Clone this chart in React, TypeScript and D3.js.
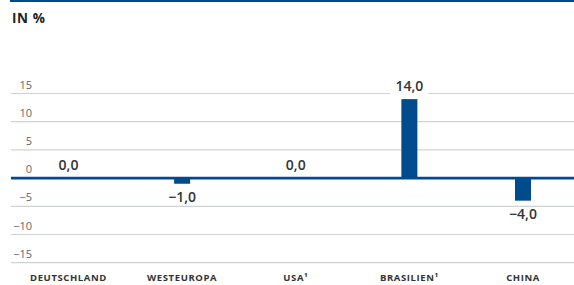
import React, { useEffect, useRef } from 'react';
import { select, scaleLinear, scalePoint } from 'd3';

const categories = ['DEUTSCHLAND', 'WESTEUROPA', 'USA¹', 'BRASILIEN¹', 'CHINA'];
const values = [0.0, -1.0, 0.0, 14.0, -4.0];
const yTicks = [15, 10, 5, 0, -5, -10, -15];

const W = 574;
const H = 285;
const blue = '#004b8d';
const fontFamily = '"Open Sans", "Noto Sans", sans-serif';

const fmt = (v: number) => (v < 0 ? '\u2212' : '') + Math.abs(v).toFixed(1).replace('.', ',');

function App() {
  const ref = useRef<SVGSVGElement>(null);

  useEffect(() => {
    const svg = select(ref.current);
    svg.selectAll('*').remove();

    const y = scaleLinear().domain([-15, 15]).range([262.7, 93.5]);
    const x = scalePoint<string>().domain(categories).range([68.5, 523]);
    const barW = 16;

    // top rule
    svg.append('rect').attr('x', 10).attr('y', 0).attr('width', W - 10).attr('height', 2).attr('fill', blue);

    svg.append('text')
      .attr('x', 12).attr('y', 23)
      .attr('font-family', fontFamily).attr('font-size', 13.5).attr('font-weight', 700)
      .attr('fill', '#222').attr('letter-spacing', 0.6)
      .text('IN %');

    // grid
    const grid = svg.append('g');
    yTicks.filter(t => t !== 0).forEach(t => {
      grid.append('line')
        .attr('x1', 11).attr('x2', W)
        .attr('y1', y(t)).attr('y2', y(t))
        .attr('stroke', '#cfd2d3').attr('stroke-width', 1.2);
    });
    yTicks.forEach(t => {
      grid.append('text')
        .attr('x', 32).attr('y', y(t) - 5)
        .attr('text-anchor', 'end')
        .attr('font-family', fontFamily).attr('font-size', 11)
        .attr('fill', '#666')
        .text(fmt(t).replace(',0', ''));
    });

    // bars
    const bars = svg.append('g');
    categories.forEach((c, i) => {
      const v = values[i];
      const cx = x(c) as number;
      if (v !== 0) {
        bars.append('rect')
          .attr('x', cx - barW / 2)
          .attr('y', y(Math.max(0, v)))
          .attr('width', barW)
          .attr('height', Math.abs(y(v) - y(0)))
          .attr('fill', blue);
      }
    });

    // zero line
    svg.append('line')
      .attr('x1', 11).attr('x2', W)
      .attr('y1', y(0)).attr('y2', y(0))
      .attr('stroke', blue).attr('stroke-width', 2.6);

    // value labels
    categories.forEach((c, i) => {
      const v = values[i];
      const cx = x(c) as number;
      const ty = v >= 0 ? y(v) - 8 : y(v) + 18;
      const t = svg.append('text')
        .attr('x', cx).attr('y', ty)
        .attr('text-anchor', 'middle')
        .attr('font-family', fontFamily).attr('font-size', 14).attr('font-weight', 600)
        .attr('fill', '#333')
        .text(fmt(v));
      if (v > 0) {
        const bb = (t.node() as SVGTextElement).getBBox();
        svg.insert('rect', () => t.node())
          .attr('x', bb.x - 5).attr('y', bb.y)
          .attr('width', bb.width + 10).attr('height', bb.height)
          .attr('fill', '#fff');
      }
    });

    // category labels
    categories.forEach(c => {
      svg.append('text')
        .attr('x', x(c) as number).attr('y', 281)
        .attr('text-anchor', 'middle')
        .attr('font-family', fontFamily).attr('font-size', 9.5).attr('font-weight', 700)
        .attr('letter-spacing', 0.6)
        .attr('fill', '#333')
        .text(c);
    });
  }, []);

  return (
    <svg ref={ref} width={W} height={H} style={{ position: 'absolute', left: 0, top: 0 }} />
  );
}

export default App;
